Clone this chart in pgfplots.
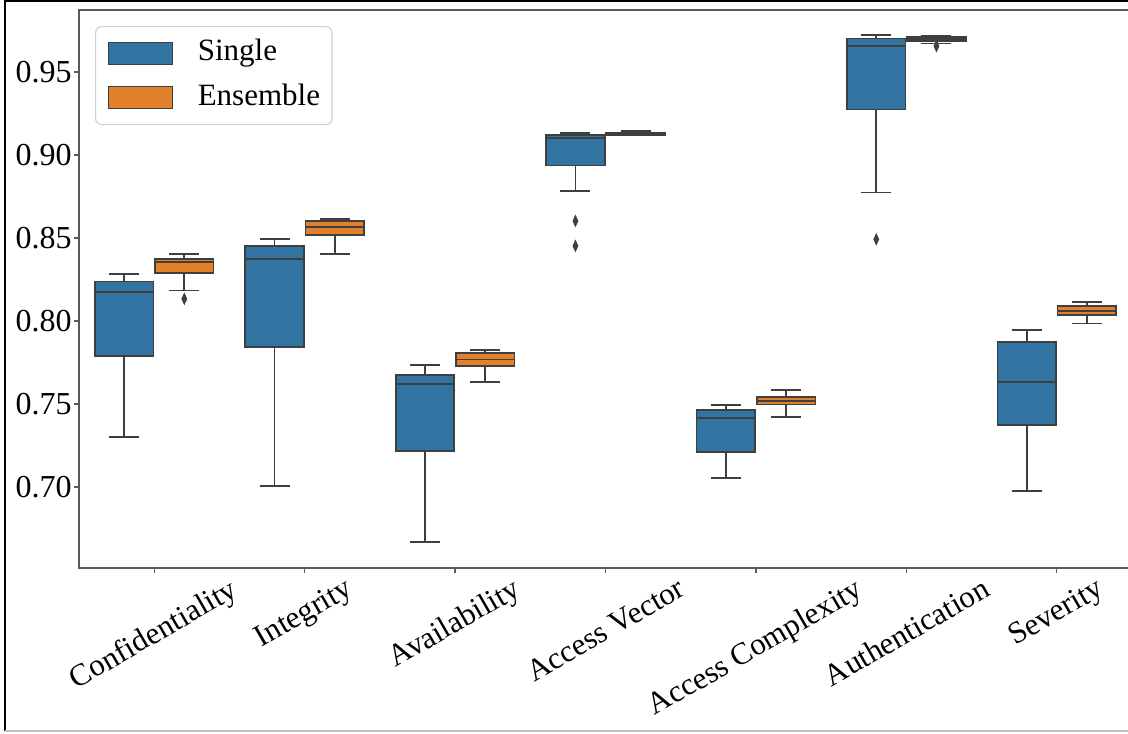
\documentclass[border=0pt]{standalone}
\usepackage{graphicx}
\usepackage{fontspec}
\setmainfont{Liberation Serif}
\usepackage{pgfplots}
\pgfplotsset{compat=1.18}
\usepgfplotslibrary{statistics}
\definecolor{sblue}{HTML}{3274A1}
\definecolor{sorange}{HTML}{E1812C}
\definecolor{edge}{HTML}{3F3F3F}
\definecolor{spine}{HTML}{5A5A5A}
\pgfplotsset{
  /pgfplots/boxplot/every box/.style={draw=edge, line width=0.85pt},
  /pgfplots/boxplot/every whisker/.style={draw=edge, line width=0.85pt},
  /pgfplots/boxplot/every median/.style={draw=edge, line width=0.85pt},
  sbox legend/.style={legend image code/.code={\draw[##1, sharp corners, line width=0.6pt] (0pt,-5.5pt) rectangle (32pt,5.5pt);}},
  bp/.style={forget plot, draw=edge, line width=0.85pt, mark=diamond*, mark size=2.6pt,
    mark options={fill=edge, draw=edge, xscale=0.6, solid, line width=0.5pt},
    boxplot/draw direction=y,
    boxplot/box extend=0.39, boxplot/whisker extend=0.2},
}
\begin{document}
\begin{tikzpicture}
\begin{axis}[
  at={(39.5pt,82.5pt)}, anchor=south west,
  scale only axis, width=526.5pt, height=279pt,
  xmin=-0.5, xmax=6.5, ymin=0.6512, ymax=0.9873,
  axis line style={spine, line width=0.6pt},
  tick pos=left, tick align=outside, major tick length=2.5pt,
  tick style={spine, line width=0.6pt},
  every axis plot/.append style={line width=0.85pt},
  xtick={0,1,2,3,4,5,6},
  xticklabels={\rotatebox{30}{Confidentiality},\rotatebox{30}{Integrity},\rotatebox{30}{Availability},\rotatebox{30}{Access Vector},\rotatebox{30}{Access Complexity},\rotatebox{30}{Authentication},\rotatebox{30}{Severity}},
  ytick={0.70,0.75,0.80,0.85,0.90,0.95},
  /pgf/number format/assume math mode=true,
  yticklabel style={/pgf/number format/fixed, /pgf/number format/fixed zerofill, /pgf/number format/precision=2, inner sep=1pt, font=\fontsize{16}{19}\selectfont},
  xticklabel style={anchor=north, inner sep=1.5pt, font=\fontsize{15.5}{18}\selectfont},
  legend style={at={(0.0152,0.9713)}, anchor=north west, draw=black!18, line width=0.6pt, rounded corners=3pt, fill=white,
    inner xsep=6pt, inner ysep=6.1pt, row sep=7.75pt, font=\fontsize{15.5}{18}\selectfont,
    nodes={inner sep=0pt, text height=11pt, text depth=3.5pt},
    /tikz/every odd column/.append style={column sep=12.5pt}},
  legend cell align=left,
]
\addlegendimage{sbox legend, fill=sblue, draw=edge}
\addlegendentry{Single}
\addlegendimage{sbox legend, fill=sorange, draw=edge}
\addlegendentry{Ensemble}

% Confidentiality
\addplot[bp, fill=sblue, boxplot prepared={draw position=-0.2, lower whisker=0.7303, lower quartile=0.7789, median=0.8176, upper quartile=0.8237, upper whisker=0.8283}] coordinates {};
\addplot[bp, fill=sorange, boxplot prepared={draw position=0.2, lower whisker=0.8183, lower quartile=0.8287, median=0.8355, upper quartile=0.8372, upper whisker=0.8404}] table[row sep=\\, y index=0] {y\\ 0.8133\\};
% Integrity
\addplot[bp, fill=sblue, boxplot prepared={draw position=0.8, lower whisker=0.7006, lower quartile=0.7845, median=0.8375, upper quartile=0.8452, upper whisker=0.8492}] coordinates {};
\addplot[bp, fill=sorange, boxplot prepared={draw position=1.2, lower whisker=0.8404, lower quartile=0.8518, median=0.8564, upper quartile=0.8602, upper whisker=0.8613}] coordinates {};
% Availability
\addplot[bp, fill=sblue, boxplot prepared={draw position=1.8, lower whisker=0.6667, lower quartile=0.7215, median=0.7619, upper quartile=0.7675, upper whisker=0.7735}] coordinates {};
\addplot[bp, fill=sorange, boxplot prepared={draw position=2.2, lower whisker=0.7634, lower quartile=0.7729, median=0.7767, upper quartile=0.7805, upper whisker=0.7823}] coordinates {};
% Access Vector
\addplot[bp, fill=sblue, boxplot prepared={draw position=2.8, lower whisker=0.8781, lower quartile=0.8936, median=0.9100, upper quartile=0.9120, upper whisker=0.9134}] table[row sep=\\, y index=0] {y\\ 0.8602\\ 0.8452\\};
\addplot[bp, fill=sorange, boxplot prepared={draw position=3.2, lower whisker=0.9118, lower quartile=0.9121, median=0.9126, upper quartile=0.9132, upper whisker=0.9143}] coordinates {};
% Access Complexity
\addplot[bp, fill=sblue, boxplot prepared={draw position=3.8, lower whisker=0.7056, lower quartile=0.7211, median=0.7414, upper quartile=0.7464, upper whisker=0.7494}] coordinates {};
\addplot[bp, fill=sorange, boxplot prepared={draw position=4.2, lower whisker=0.7423, lower quartile=0.7496, median=0.7518, upper quartile=0.7542, upper whisker=0.7584}] coordinates {};
% Authentication
\addplot[bp, fill=sblue, boxplot prepared={draw position=4.8, lower whisker=0.8773, lower quartile=0.9273, median=0.9655, upper quartile=0.9701, upper whisker=0.9723}] table[row sep=\\, y index=0] {y\\ 0.8492\\};
\addplot[bp, fill=sorange, boxplot prepared={draw position=5.2, lower whisker=0.9672, lower quartile=0.9688, median=0.9700, upper quartile=0.9710, upper whisker=0.9720}] table[row sep=\\, y index=0] {y\\ 0.9655\\};
% Severity
\addplot[bp, fill=sblue, boxplot prepared={draw position=5.8, lower whisker=0.6976, lower quartile=0.7373, median=0.7634, upper quartile=0.7875, upper whisker=0.7944}] coordinates {};
\addplot[bp, fill=sorange, boxplot prepared={draw position=6.2, lower whisker=0.7984, lower quartile=0.8034, median=0.8062, upper quartile=0.8092, upper whisker=0.8113}] coordinates {};
\end{axis}
\draw[black, line width=0.6pt] (2.5pt,1pt) -- (2.5pt,366pt) -- (570pt,366pt);
\draw[black!25, line width=0.6pt] (2.5pt,1pt) -- (570pt,1pt);
\pgfresetboundingbox
\useasboundingbox (0,0) rectangle (564pt,366.5pt);
\end{tikzpicture}
\end{document}
